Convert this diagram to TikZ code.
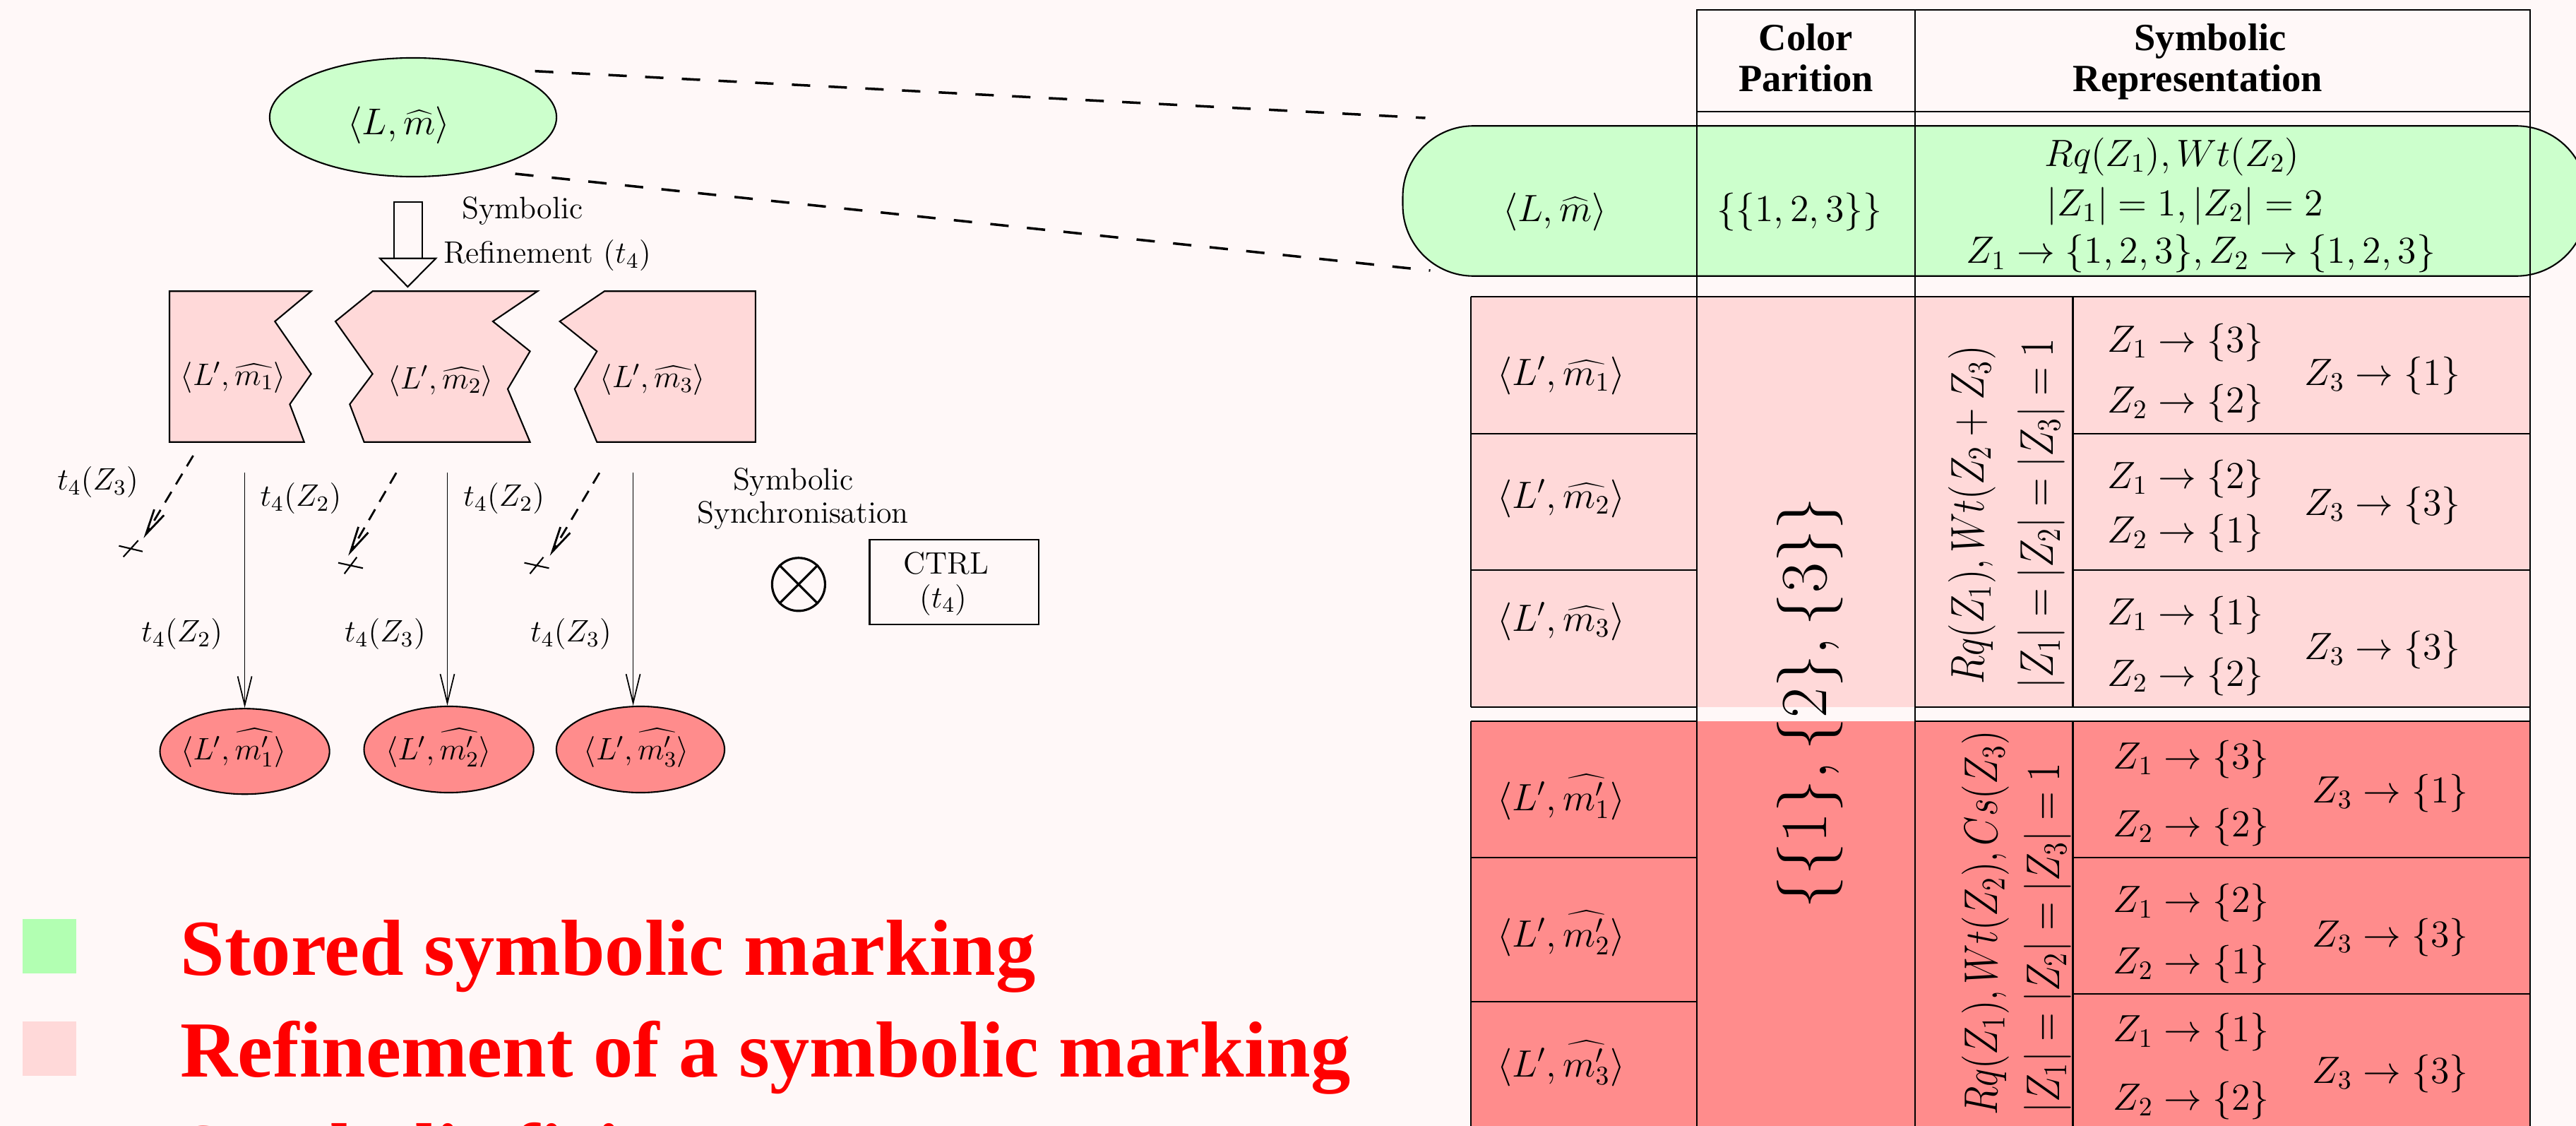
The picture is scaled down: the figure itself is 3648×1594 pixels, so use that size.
\RequirePackage{fix-cm}
\documentclass[tikz,border=0pt]{standalone}
\usepackage{fontspec}
\newfontfamily\tnr{Liberation Serif}
\usetikzlibrary{shapes.geometric,arrows.meta,calc}

\newcommand\fsz[1]{\fontsize{#1}{#1}\selectfont}

\definecolor{bgpaper}{RGB}{255,248,248}
\definecolor{mintfill}{RGB}{204,255,204}
\definecolor{mintkey}{RGB}{178,255,178}
\definecolor{rosefill}{RGB}{255,217,217}
\definecolor{salmonfill}{RGB}{255,140,140}

\tikzset{
  outl/.style={draw=black, line width=0.6pt},
  lbl/.style={inner sep=0pt, font=\fsz{12.5}},
  tbl/.style={inner sep=0pt, font=\fsz{15.3}},
  rot/.style={inner sep=0pt, rotate=90, font=\fsz{15.2}},
  hdr/.style={inner sep=0pt, font=\tnr\bfseries\fsz{15.5}},
  keytext/.style={inner sep=0pt, text=red, font=\tnr\bfseries\fsz{32}},
  rule/.style={line width=0.6pt},
  topdash/.style={line width=1pt, dash pattern=on 7.4pt off 7.4pt},
  dasharr/.style={line width=0.8pt, dash pattern=on 5pt off 3.5pt,
    -{Straight Barb[length=0.36cm,width=0.16cm]}},
  solidarr/.style={line width=0.5pt, -{Straight Barb[length=0.41cm,width=0.2cm]}},
  xmark/.style={line width=0.6pt},
}

\begin{document}
\begin{tikzpicture}[x=0.01cm,y=-0.01cm]
\useasboundingbox (0,0) rectangle (3648,1594);
\clip (0,0) rectangle (3648,1594);
\fill[bgpaper] (0,0) rectangle (3648,1594);

% ---------------- left: refinement graph ----------------
\node[ellipse, outl, fill=mintfill, minimum width=4.06cm, minimum height=1.68cm, inner sep=0pt] (top) at (585,166) {};
\node[inner sep=0pt, font=\fsz{15}, anchor=base] (toplbl) at (564.7,190.5) {$\langle L,\widehat{m}\rangle$};

% block arrow
\draw[outl, fill=bgpaper] (557.7,285.7) rectangle (597.7,365.7);
\draw[outl, fill=bgpaper] (538,365.7) -- (617.3,365.7) -- (577.4,406) -- cycle;
\node[lbl, anchor=base] (refa) at (739.7,310) {Symbolic};
\node[lbl, anchor=base] (refb) at (775,373) {Refinement ($t_4$)};

% refined markings
\draw[outl, fill=rosefill] (240,412.3) -- (440.6,412.3) -- (389.3,455) -- (440.6,529.3)
  -- (410.4,572.3) -- (430.7,625.7) -- (240,625.7) -- cycle;
\draw[outl, fill=rosefill] (527.6,412.3) -- (761.2,412.3) -- (698,455) -- (750.6,497.3)
  -- (719,550.7) -- (750.6,625.7) -- (515.6,625.7) -- (495.3,572.3) -- (527.6,529.3)
  -- (475,455) -- cycle;
\draw[outl, fill=rosefill] (855.9,412.3) -- (1069.8,412.3) -- (1069.8,625.7) -- (845.3,625.7)
  -- (813.8,550.7) -- (845.3,497.3) -- (792.7,455) -- cycle;
\node[lbl, anchor=base] (rm1) at (330.5,545) {$\langle L',\widehat{m_1}\rangle$};
\node[lbl, anchor=base] (rm2) at (624.4,550) {$\langle L',\widehat{m_2}\rangle$};
\node[lbl, anchor=base] (rm3) at (924.3,548.5) {$\langle L',\widehat{m_3}\rangle$};

% successor markings
\node[ellipse, outl, fill=salmonfill, minimum width=2.4cm, minimum height=1.21cm, inner sep=0pt] (s1) at (346.6,1063.7) {};
\node[ellipse, outl, fill=salmonfill, minimum width=2.4cm, minimum height=1.22cm, inner sep=0pt] (s2) at (635.6,1061) {};
\node[ellipse, outl, fill=salmonfill, minimum width=2.38cm, minimum height=1.22cm, inner sep=0pt] (s3) at (907,1061) {};
\node[lbl, anchor=base] (sl1) at (330.8,1075) {$\langle L',\widehat{m'_1}\rangle$};
\node[lbl, anchor=base] (sl2) at (620.9,1075) {$\langle L',\widehat{m'_2}\rangle$};
\node[lbl, anchor=base] (sl3) at (901.5,1075) {$\langle L',\widehat{m'_3}\rangle$};

% firings
\coordinate (f1) at (346.6,669.3);
\coordinate (f2) at (633.5,669.3);
\coordinate (f3) at (896.6,669.3);
\draw[solidarr] (f1) -- (f1 |- s1.north);
\draw[solidarr] (f2) -- (f2 |- s2.north);
\draw[solidarr] (f3) -- (f3 |- s3.north);

% disabled firings
\coordinate (g1) at (273.6,645);   \coordinate (h1) at (203.4,761.7);
\coordinate (g2) at (561.2,669.3); \coordinate (h2) at (493.2,786.7);
\coordinate (g3) at (848.9,669.3); \coordinate (h3) at (778.7,786.7);
\draw[dasharr] (g1) -- (h1);
\draw[dasharr] (g2) -- (h2);
\draw[dasharr] (g3) -- (h3);
\coordinate (c1) at (185.2,776.7);
\coordinate (c2) at (496.5,800.5);
\coordinate (c3) at (760,800.5);
\draw[xmark] ($(c1)+(-16.8,-4)$) -- ($(c1)+(16.8,4)$) ($(c1)+(10.5,-11.6)$) -- ($(c1)+(-10.5,11.6)$);
\draw[xmark] ($(c2)+(-17.5,-3.8)$) -- ($(c2)+(17.5,3.8)$) ($(c2)+(8.8,-11.7)$) -- ($(c2)+(-8.8,11.7)$);
\draw[xmark] ($(c3)+(-17.5,-3.8)$) -- ($(c3)+(17.5,3.8)$) ($(c3)+(9.5,-11.7)$) -- ($(c3)+(-9.5,11.7)$);

\node[lbl, anchor=base] (t1) at (138.6,693.5) {$t_4(Z_3)$};
\node[lbl, anchor=base] (t2) at (426,716.5) {$t_4(Z_2)$};
\node[lbl, anchor=base] (t3) at (713.8,716.5) {$t_4(Z_2)$};
\node[lbl, anchor=base] (t4) at (257.8,908.5) {$t_4(Z_2)$};
\node[lbl, anchor=base] (t5) at (545.4,908.5) {$t_4(Z_3)$};
\node[lbl, anchor=base] (t6) at (808.6,908.5) {$t_4(Z_3)$};

% synchronisation
\node[lbl, anchor=base] (synca) at (1123.5,693.3) {Symbolic};
\node[lbl, anchor=base] (syncb) at (1137,740) {Synchronisation};
\node[circle, draw, line width=0.9pt, minimum size=0.75cm, inner sep=0pt] (sync) at (1130.9,827.3) {};
\draw[line width=0.9pt] (sync.north west) -- (sync.south east) (sync.north east) -- (sync.south west);
\node[outl, minimum width=2.392cm, minimum height=1.2cm, inner sep=0pt] (ctrl) at (1351.1,824.3) {};
\node[lbl, anchor=base] (ctrla) at (1339.6,812.7) {CTRL};
\node[lbl, anchor=base] (ctrlb) at (1336,860) {($t_4$)};

% legend
\node[fill=mintkey, minimum size=0.765cm, inner sep=0pt] (key1) at (70.15,1339.7) {};
\node[fill=rosefill, minimum size=0.765cm, inner sep=0pt] (key2) at (70.15,1484.7) {};
\node[keytext, anchor=base west] (kt1) at (255,1380) {Stored symbolic marking};
\node[keytext, anchor=base west] (kt2) at (255,1524) {Refinement of a symbolic marking};
\node[keytext, anchor=base west] (kt3) at (255,1668) {Symbolic firing};

% ---------------- right: table ----------------
\fill[rosefill] (2083.2,419.8) rectangle (3583,1001);
\fill[salmonfill] (2083.2,1020.8) rectangle (3583,1600);
\node[outl, fill=mintfill, rounded corners=1cm, minimum width=16.76cm, minimum height=2.124cm, inner sep=0pt] (pill) at (2825,284.5) {};

% grid
\draw[rule] (2402.7,14) rectangle (3583,158.3);
\draw[rule] (2402.7,14) -- (2402.7,1600) (2712.4,14) -- (2712.4,1600) (3583,14) -- (3583,1600);
\draw[rule] (2083.2,419.8) -- (2083.2,1001) (2083.2,1020.8) -- (2083.2,1600);
\draw[rule] (2935.5,419.8) -- (2935.5,1001) (2935.5,1020.8) -- (2935.5,1600);
\draw[rule] (2083.2,419.8) -- (3583,419.8);
\draw[rule] (2083.2,614.3) -- (2402.7,614.3) (2935.5,614.3) -- (3583,614.3);
\draw[rule] (2083.2,807.3) -- (2402.7,807.3) (2935.5,807.3) -- (3583,807.3);
\draw[rule] (2083.2,1001) -- (2402.7,1001) (2712.4,1001) -- (3583,1001);
\draw[rule] (2083.2,1020.8) -- (2402.7,1020.8) (2712.4,1020.8) -- (3583,1020.8);
\draw[rule] (2083.2,1214) -- (2402.7,1214) (2083.2,1418) -- (2402.7,1418);
\draw[rule] (2935.5,1214) -- (3583,1214) (2935.5,1407) -- (3583,1407);

% header
\node[hdr, anchor=base] (h1) at (2557.5,72) {Color};
\node[hdr, anchor=base] (h2) at (2557.5,130) {Parition};
\node[hdr, anchor=base] (h3) at (3130,72) {Symbolic};
\node[hdr, anchor=base] (h4) at (3112.5,130) {Representation};

% stored marking row
\node[tbl, anchor=base] (pm) at (2201.8,313.4) {$\langle L,\widehat{m}\rangle$};
\node[tbl, anchor=base] (pc) at (2548.4,313.4) {$\{\{1,2,3\}\}$};
\node[tbl, anchor=base] (ps1) at (3076,235.4) {$Rq(Z_1),Wt(Z_2)$};
\node[tbl, anchor=base] (ps2) at (3094,305.4) {$|Z_1|=1,|Z_2|=2$};
\node[tbl, anchor=base] (ps3) at (3116.8,373) {$Z_1\rightarrow\{1,2,3\},Z_2\rightarrow\{1,2,3\}$};

% shared partition
\node[inner sep=0pt, rotate=90, font=\fsz{26.5}] (part) at (2563,995) {$\{\{1\},\{2\},\{3\}\}$};

% refined rows
\node[tbl, anchor=base] (ra1) at (2211,545) {$\langle L',\widehat{m_1}\rangle$};
\node[tbl, anchor=base] (ra2) at (2211,719) {$\langle L',\widehat{m_2}\rangle$};
\node[tbl, anchor=base] (ra3) at (2211,893) {$\langle L',\widehat{m_3}\rangle$};
\node[rot, anchor=base west] (rq1) at (2809,969.4) {\scalebox{1}[1.25]{$Rq(Z_1),Wt(Z_2+Z_3)$}};
\node[rot, anchor=base west] (rq2) at (2907,975.3) {\scalebox{1}[1.25]{$|Z_1|=|Z_2|=|Z_3|=1$}};
\node[tbl, anchor=base] (z11) at (3095,498) {$Z_1\rightarrow\{3\}$};
\node[tbl, anchor=base] (z12) at (3095,584) {$Z_2\rightarrow\{2\}$};
\node[tbl, anchor=base] (z13) at (3374,545) {$Z_3\rightarrow\{1\}$};
\node[tbl, anchor=base] (z21) at (3095,691) {$Z_1\rightarrow\{2\}$};
\node[tbl, anchor=base] (z22) at (3095,768) {$Z_2\rightarrow\{1\}$};
\node[tbl, anchor=base] (z23) at (3374,729) {$Z_3\rightarrow\{3\}$};
\node[tbl, anchor=base] (z31) at (3095,884) {$Z_1\rightarrow\{1\}$};
\node[tbl, anchor=base] (z32) at (3095,971) {$Z_2\rightarrow\{2\}$};
\node[tbl, anchor=base] (z33) at (3374,933) {$Z_3\rightarrow\{3\}$};

% fired rows
\node[tbl, anchor=base] (fa1) at (2211,1147) {$\langle L',\widehat{m'_1}\rangle$};
\node[tbl, anchor=base] (fa2) at (2211,1340) {$\langle L',\widehat{m'_2}\rangle$};
\node[tbl, anchor=base] (fa3) at (2211,1524) {$\langle L',\widehat{m'_3}\rangle$};
\node[rot, anchor=base west] (rq3) at (2828.6,1579.6) {\scalebox{1}[1.25]{$Rq(Z_1),Wt(Z_2),Cs(Z_3)$}};
\node[rot, anchor=base west] (rq4) at (2916,1575.8) {\scalebox{1}[1.25]{$|Z_1|=|Z_2|=|Z_3|=1$}};
\node[tbl, anchor=base] (y11) at (3103,1088) {$Z_1\rightarrow\{3\}$};
\node[tbl, anchor=base] (y12) at (3103,1184) {$Z_2\rightarrow\{2\}$};
\node[tbl, anchor=base] (y13) at (3385,1136) {$Z_3\rightarrow\{1\}$};
\node[tbl, anchor=base] (y21) at (3103,1291) {$Z_1\rightarrow\{2\}$};
\node[tbl, anchor=base] (y22) at (3103,1378) {$Z_2\rightarrow\{1\}$};
\node[tbl, anchor=base] (y23) at (3385,1340) {$Z_3\rightarrow\{3\}$};
\node[tbl, anchor=base] (y31) at (3103,1474) {$Z_1\rightarrow\{1\}$};
\node[tbl, anchor=base] (y32) at (3103,1571) {$Z_2\rightarrow\{2\}$};
\node[tbl, anchor=base] (y33) at (3385,1533) {$Z_3\rightarrow\{3\}$};

% zoom lines from the stored marking to its row
\draw[topdash] ($(top.center)+(172.6,-65.3)$) -- ($(pill.west)+(33,-117.5)$);
\draw[topdash] ($(top.center)+(144.6,80)$) -- ($(pill.west)+(40,98.5)$);
\end{tikzpicture}
\end{document}
